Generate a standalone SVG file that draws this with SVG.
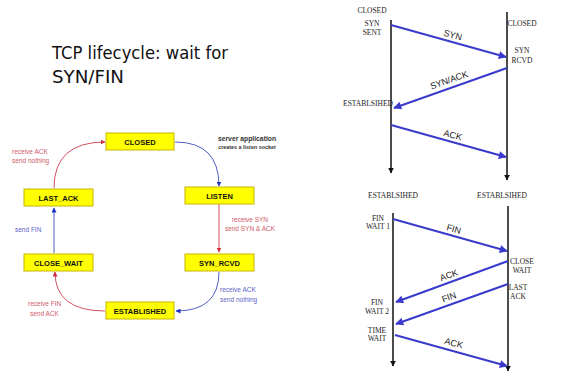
<svg xmlns="http://www.w3.org/2000/svg" width="561" height="372" viewBox="0 0 561 372">
<defs>
<style>
.box{fill:#ffff00;stroke:#c8b400;stroke-width:1}
.bl{font-family:"Liberation Sans",Arial,sans-serif;font-weight:bold;font-size:7.5px;fill:#111;text-anchor:middle}
.rl{font-family:"Liberation Sans",Arial,sans-serif;font-size:6.5px;fill:#d05a6a}
.ul{font-family:"Liberation Sans",Arial,sans-serif;font-size:6.5px;fill:#5a64c8}
.rc{fill:none;stroke:#d05060;stroke-width:1}
.uc{fill:none;stroke:#5060c0;stroke-width:1}
.st{font-family:"Liberation Serif","Times New Roman",serif;font-size:7.5px;fill:#222;text-anchor:middle}
.tl{stroke:#111;stroke-width:1.5;fill:none}
.msg{stroke:#3a3acc;stroke-width:2;fill:none}
.ml{font-family:"Liberation Sans",Arial,sans-serif;font-size:9px;fill:#222;text-anchor:middle}
.tt{font-family:"DejaVu Sans",sans-serif;font-size:17px;fill:#111}
.sv{font-family:"Liberation Sans",Arial,sans-serif;font-weight:bold;fill:#333;text-anchor:middle}
</style>
<marker id="ar" viewBox="0 0 10 10" refX="9" refY="5" markerWidth="5" markerHeight="5" orient="auto" markerUnits="userSpaceOnUse"><path d="M0,0L10,5L0,10z" fill="#d03040"/></marker>
<marker id="au" viewBox="0 0 10 10" refX="9" refY="5" markerWidth="5" markerHeight="5" orient="auto" markerUnits="userSpaceOnUse"><path d="M0,0L10,5L0,10z" fill="#2030c0"/></marker>
<marker id="am" viewBox="0 0 10 10" refX="9" refY="5" markerWidth="9" markerHeight="8" orient="auto" markerUnits="userSpaceOnUse"><path d="M0,0L10,5L0,10z" fill="#3a3acc"/></marker>
<marker id="ak" viewBox="0 0 10 10" refX="9" refY="5" markerWidth="6" markerHeight="6" orient="auto" markerUnits="userSpaceOnUse"><path d="M0,0L10,5L0,10z" fill="#111"/></marker>
</defs>
<rect width="561" height="372" fill="#fff"/>
<g id="title">
<text class="tt" x="52" y="59" textLength="176" lengthAdjust="spacingAndGlyphs">TCP lifecycle: wait for</text>
<text class="tt" x="52" y="83" textLength="72" lengthAdjust="spacingAndGlyphs">SYN/FIN</text>
</g>
<g id="connectors">
<path class="uc" d="M175,142 Q219,142 219,186" marker-end="url(#au)"/>
<path class="rc" d="M219,204 L219,252" marker-end="url(#ar)"/>
<path class="uc" d="M219,272 Q219,311 176,311" marker-end="url(#au)"/>
<path class="rc" d="M105,311 Q55,311 55,272" marker-end="url(#ar)"/>
<path class="uc" d="M54,253 L54,208" marker-end="url(#au)"/>
<path class="rc" d="M54,188 Q54,142 105,142" marker-end="url(#ar)"/>
</g>
<g id="closed"><rect class="box" x="106" y="133" width="68" height="17"/><text class="bl" x="140" y="144.5">CLOSED</text></g>
<g id="listen"><rect class="box" x="185" y="187" width="69" height="17"/><text class="bl" x="219.5" y="198.5">LISTEN</text></g>
<g id="syn_rcvd"><rect class="box" x="185" y="254" width="69" height="17"/><text class="bl" x="219.5" y="265.5">SYN_RCVD</text></g>
<g id="established"><rect class="box" x="106" y="302" width="68" height="17"/><text class="bl" x="140" y="313.5">ESTABLISHED</text></g>
<g id="close_wait"><rect class="box" x="24" y="254" width="69" height="17"/><text class="bl" x="58.5" y="265.5">CLOSE_WAIT</text></g>
<g id="last_ack"><rect class="box" x="24" y="189" width="69" height="17"/><text class="bl" x="58.5" y="200.5">LAST_ACK</text></g>
<g id="labels">
<text class="sv" x="247" y="141" font-size="6.8">server application</text>
<text class="sv" x="247" y="149" font-size="5.4">creates a listen socket</text>
<text class="rl" x="12" y="154">receive  ACK</text>
<text class="rl" x="12" y="163">send nothing</text>
<text class="ul" x="15" y="232">send FIN</text>
<text class="rl" x="250" y="222" text-anchor="middle">receive SYN</text>
<text class="rl" x="250" y="231" text-anchor="middle">send SYN &amp; ACK</text>
<text class="ul" x="220" y="292">receive  ACK</text>
<text class="ul" x="220" y="302">send nothing</text>
<text class="rl" x="28" y="306">receive FIN</text>
<text class="rl" x="30" y="316">send ACK</text>
</g>
<g id="handshake">
<line class="tl" x1="391" y1="20" x2="391" y2="173" marker-end="url(#ak)"/>
<line class="tl" x1="507" y1="12" x2="507" y2="180" marker-end="url(#ak)"/>
<text class="st" x="372" y="13">CLOSED</text>
<text class="st" x="372" y="26">SYN</text>
<text class="st" x="372" y="35">SENT</text>
<text class="st" x="522" y="26">CLOSED</text>
<text class="st" x="522" y="53">SYN</text>
<text class="st" x="522" y="63">RCVD</text>
<text class="st" x="368" y="106">ESTABLSIHED</text>
</g>
<g id="handshake-msgs">
<line class="msg" x1="391" y1="25" x2="506" y2="57" marker-end="url(#am)"/>
<text class="ml" transform="translate(452,38) rotate(15.5)">SYN</text>
<line class="msg" x1="507" y1="68" x2="394" y2="108" marker-end="url(#am)"/>
<text class="ml" transform="translate(450,83) rotate(-19.5)">SYN/ACK</text>
<line class="msg" x1="391" y1="125" x2="506" y2="157" marker-end="url(#am)"/>
<text class="ml" transform="translate(452,138) rotate(15.5)">ACK</text>
</g>
<g id="teardown">
<line class="tl" x1="393" y1="213" x2="393" y2="366" marker-end="url(#ak)"/>
<line class="tl" x1="508" y1="206" x2="508" y2="371" marker-end="url(#ak)"/>
<text class="st" x="393" y="198">ESTABLSIHED</text>
<text class="st" x="502" y="198">ESTABLSIHED</text>
<text class="st" x="378" y="221">FIN</text>
<text class="st" x="378" y="229">WAIT 1</text>
<text class="st" x="522" y="264">CLOSE</text>
<text class="st" x="522" y="273">WAIT</text>
<text class="st" x="518" y="290">LAST</text>
<text class="st" x="518" y="299">ACK</text>
<text class="st" x="377" y="305">FIN</text>
<text class="st" x="377" y="314">WAIT 2</text>
<text class="st" x="377" y="333">TIME</text>
<text class="st" x="377" y="341">WAIT</text>
</g>
<g id="teardown-msgs">
<line class="msg" x1="393" y1="219" x2="507" y2="251" marker-end="url(#am)"/>
<text class="ml" transform="translate(453,232) rotate(15.5)">FIN</text>
<line class="msg" x1="508" y1="261" x2="396" y2="302" marker-end="url(#am)"/>
<text class="ml" transform="translate(450,278) rotate(-20)">ACK</text>
<line class="msg" x1="508" y1="284" x2="396" y2="324" marker-end="url(#am)"/>
<text class="ml" transform="translate(450,300) rotate(-20)">FIN</text>
<line class="msg" x1="395" y1="335" x2="507" y2="366" marker-end="url(#am)"/>
<text class="ml" transform="translate(453,346) rotate(15.5)">ACK</text>
</g>
</svg>
